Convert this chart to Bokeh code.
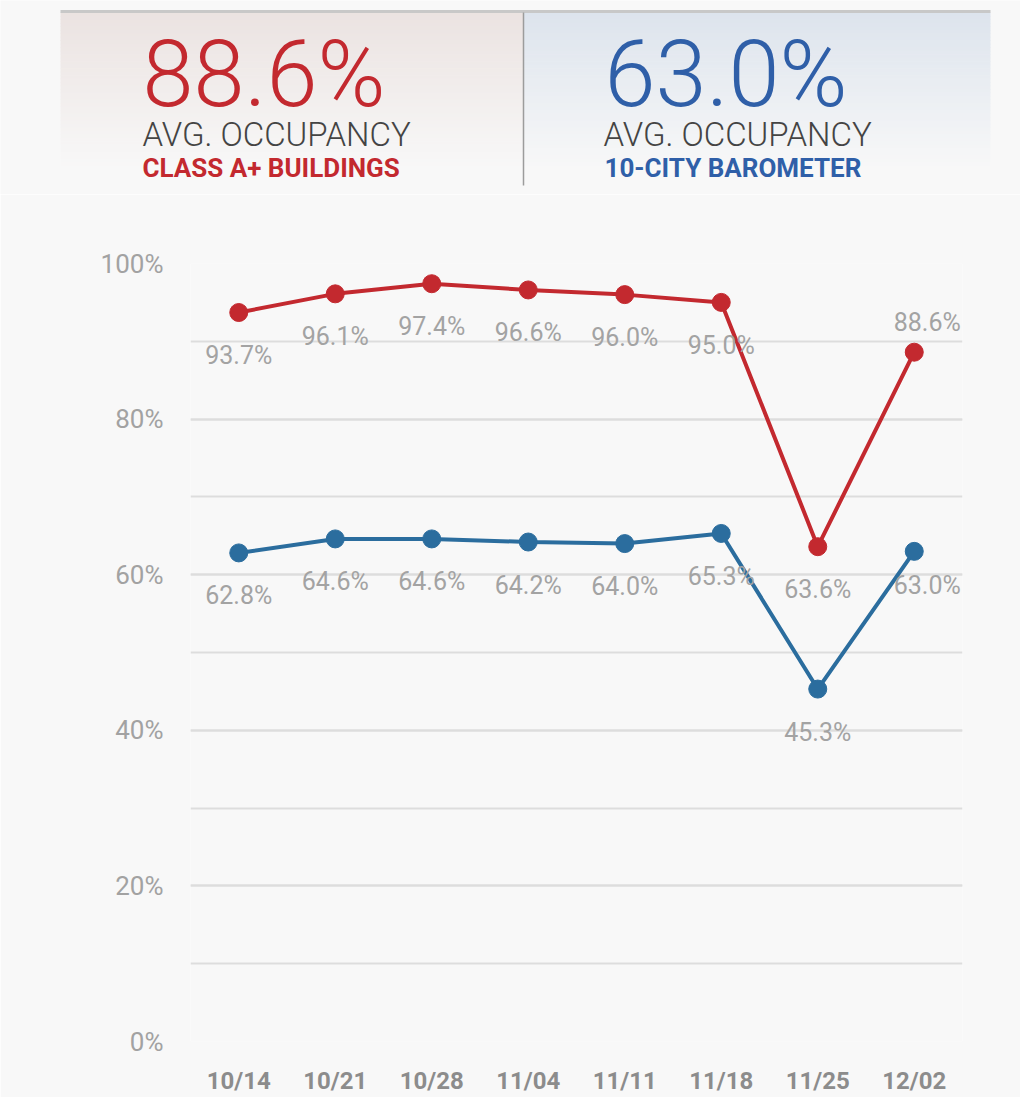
from bokeh.plotting import figure
from bokeh.layouts import column, row
from bokeh.models import Range1d, FactorRange, ColumnDataSource, FixedTicker
from bokeh.core.properties import value
from bokeh.embed import file_html
from bokeh.resources import INLINE

# ---------------- data ----------------
weeks = ["10/14", "10/21", "10/28", "11/04", "11/11", "11/18", "11/25", "12/02"]
class_a = [93.7, 96.1, 97.4, 96.6, 96.0, 95.0, 63.6, 88.6]
barometer = [62.8, 64.6, 64.6, 64.2, 64.0, 65.3, 45.3, 63.0]
headline_a = "88.6%"
headline_b = "63.0%"
y_ticks = [0, 20, 40, 60, 80, 100]

RED = "#c3292f"
BLUE = "#2b6d9e"
HEAD_BLUE = "#2f5fa8"
BG = "#f8f8f8"
LABEL_GRAY = "#a3a3a3"

W = 1020
HEAD_H = 194
CHART_H = 903

# ---------------- header (coordinates = page pixels) ----------------
h = figure(width=W, height=HEAD_H, x_range=Range1d(0, W), y_range=Range1d(HEAD_H, 0),
           output_backend="svg", toolbar_location=None, min_border=0,
           min_border_left=0, min_border_right=0, min_border_top=0, min_border_bottom=0,
           x_axis_location=None, y_axis_location=None,
           background_fill_color=BG, border_fill_color=BG, outline_line_color=None)
h.grid.visible = False


def hexmix(c1, c2, t):
    a = [int(c1[i:i + 2], 16) for i in (1, 3, 5)]
    b = [int(c2[i:i + 2], 16) for i in (1, 3, 5)]
    return "#%02x%02x%02x" % tuple(round(a[k] + (b[k] - a[k]) * t) for k in range(3))


def panel(x0, x1, top_col):
    n = 50
    y0, y1 = 12, 186
    step = (y1 - y0) / n
    lefts, rights, tops, bottoms, cols = [], [], [], [], []
    for i in range(n):
        t = min(1.0, (i / (n - 1)) * 1.1)
        lefts.append(x0); rights.append(x1)
        tops.append(y0 + i * step); bottoms.append(y0 + (i + 1) * step + 0.6)
        cols.append(hexmix(top_col, BG, t))
    h.quad(left=lefts, right=rights, top=tops, bottom=bottoms, fill_color=cols, line_color=None)


panel(60, 523, "#ebe3e1")
panel(523, 990, "#dde4ed")
h.segment(x0=[60], y0=[11], x1=[990], y1=[11], line_color="#c8c8c8", line_width=3)
h.segment(x0=[523], y0=[12], x1=[523], y1=[185], line_color="#9c9c9c", line_width=1.5)

big_font = value("Roboto Light")
h.text(x=[142, 604], y=[74, 74], text=[headline_a, headline_b], text_font=big_font,
       text_font_size="92px", text_color=[RED, HEAD_BLUE], text_align="left",
       text_baseline="alphabetic")
h.text(x=[142, 603], y=[134, 134], text=["AVG. OCCUPANCY", "AVG. OCCUPANCY"], text_font=big_font,
       text_font_size="33px", text_color="#444444", text_align="left", text_baseline="alphabetic")
h.text(x=[142, 604], y=[167, 167], text=["CLASS A+ BUILDINGS", "10-CITY BAROMETER"],
       text_font=value("Roboto"), text_font_style="bold",
       text_font_size="26px", text_color=[RED, HEAD_BLUE], text_align="left",
       text_baseline="alphabetic")

# ---------------- chart ----------------
p = figure(width=W, height=CHART_H, x_range=FactorRange(*weeks), y_range=Range1d(0, 100),
           output_backend="svg", toolbar_location=None,
           background_fill_color=BG, border_fill_color=BG, outline_line_color=None,
           min_border_left=190, min_border_right=58, min_border_top=69, min_border_bottom=56)

p.xgrid.visible = False
p.yaxis.ticker = FixedTicker(ticks=y_ticks, minor_ticks=list(range(0, 101, 10)))
p.ygrid.grid_line_color = "#dddddd"
p.ygrid.grid_line_width = 2
p.ygrid.minor_grid_line_color = "#dddddd"
p.ygrid.minor_grid_line_width = 2

p.yaxis.major_label_overrides = {t: f"{t}%" for t in y_ticks}
for ax in (p.xaxis[0], p.yaxis[0]):
    ax.axis_line_color = None
    ax.major_tick_line_color = None
    ax.minor_tick_line_color = None
    ax.major_tick_out = 0
    ax.minor_tick_out = 0
    ax.major_tick_in = 0
    ax.minor_tick_in = 0
p.yaxis.major_label_text_font = "Roboto"
p.yaxis.major_label_text_font_size = "26px"
p.yaxis.major_label_text_color = "#a2a2a2"
p.yaxis.major_label_standoff = 27
p.xaxis.major_label_text_font = "Roboto"
p.xaxis.major_label_text_font_style = "bold"
p.xaxis.major_label_text_font_size = "24px"
p.xaxis.major_label_text_color = "#8c8c8c"
p.xaxis.major_label_standoff = 25

n = len(weeks)
for vals, col in ((class_a, RED), (barometer, BLUE)):
    p.line(weeks, vals, line_color=col, line_width=4)
    p.scatter(weeks, vals, size=18, fill_color=col, line_color=col)


# value labels: below each point, the last ones shifted aside (screen offsets, +y = down)
def labels(vals, last_dx, last_dy):
    src = ColumnDataSource(dict(
        x=weeks, y=vals, t=[f"{v:.1f}%" for v in vals],
        dx=[0] * (n - 1) + [last_dx], dy=[43] * (n - 1) + [last_dy]))
    p.text(x="x", y="y", text="t", x_offset="dx", y_offset="dy", source=src,
           text_font=value("Roboto"), text_font_size="25px", text_color=LABEL_GRAY,
           text_align="center", text_baseline="middle")


labels(class_a, 13, -30)
labels(barometer, 13, 34)

open("out.html", "w").write(file_html(column(row(h), p, spacing=0), INLINE))
